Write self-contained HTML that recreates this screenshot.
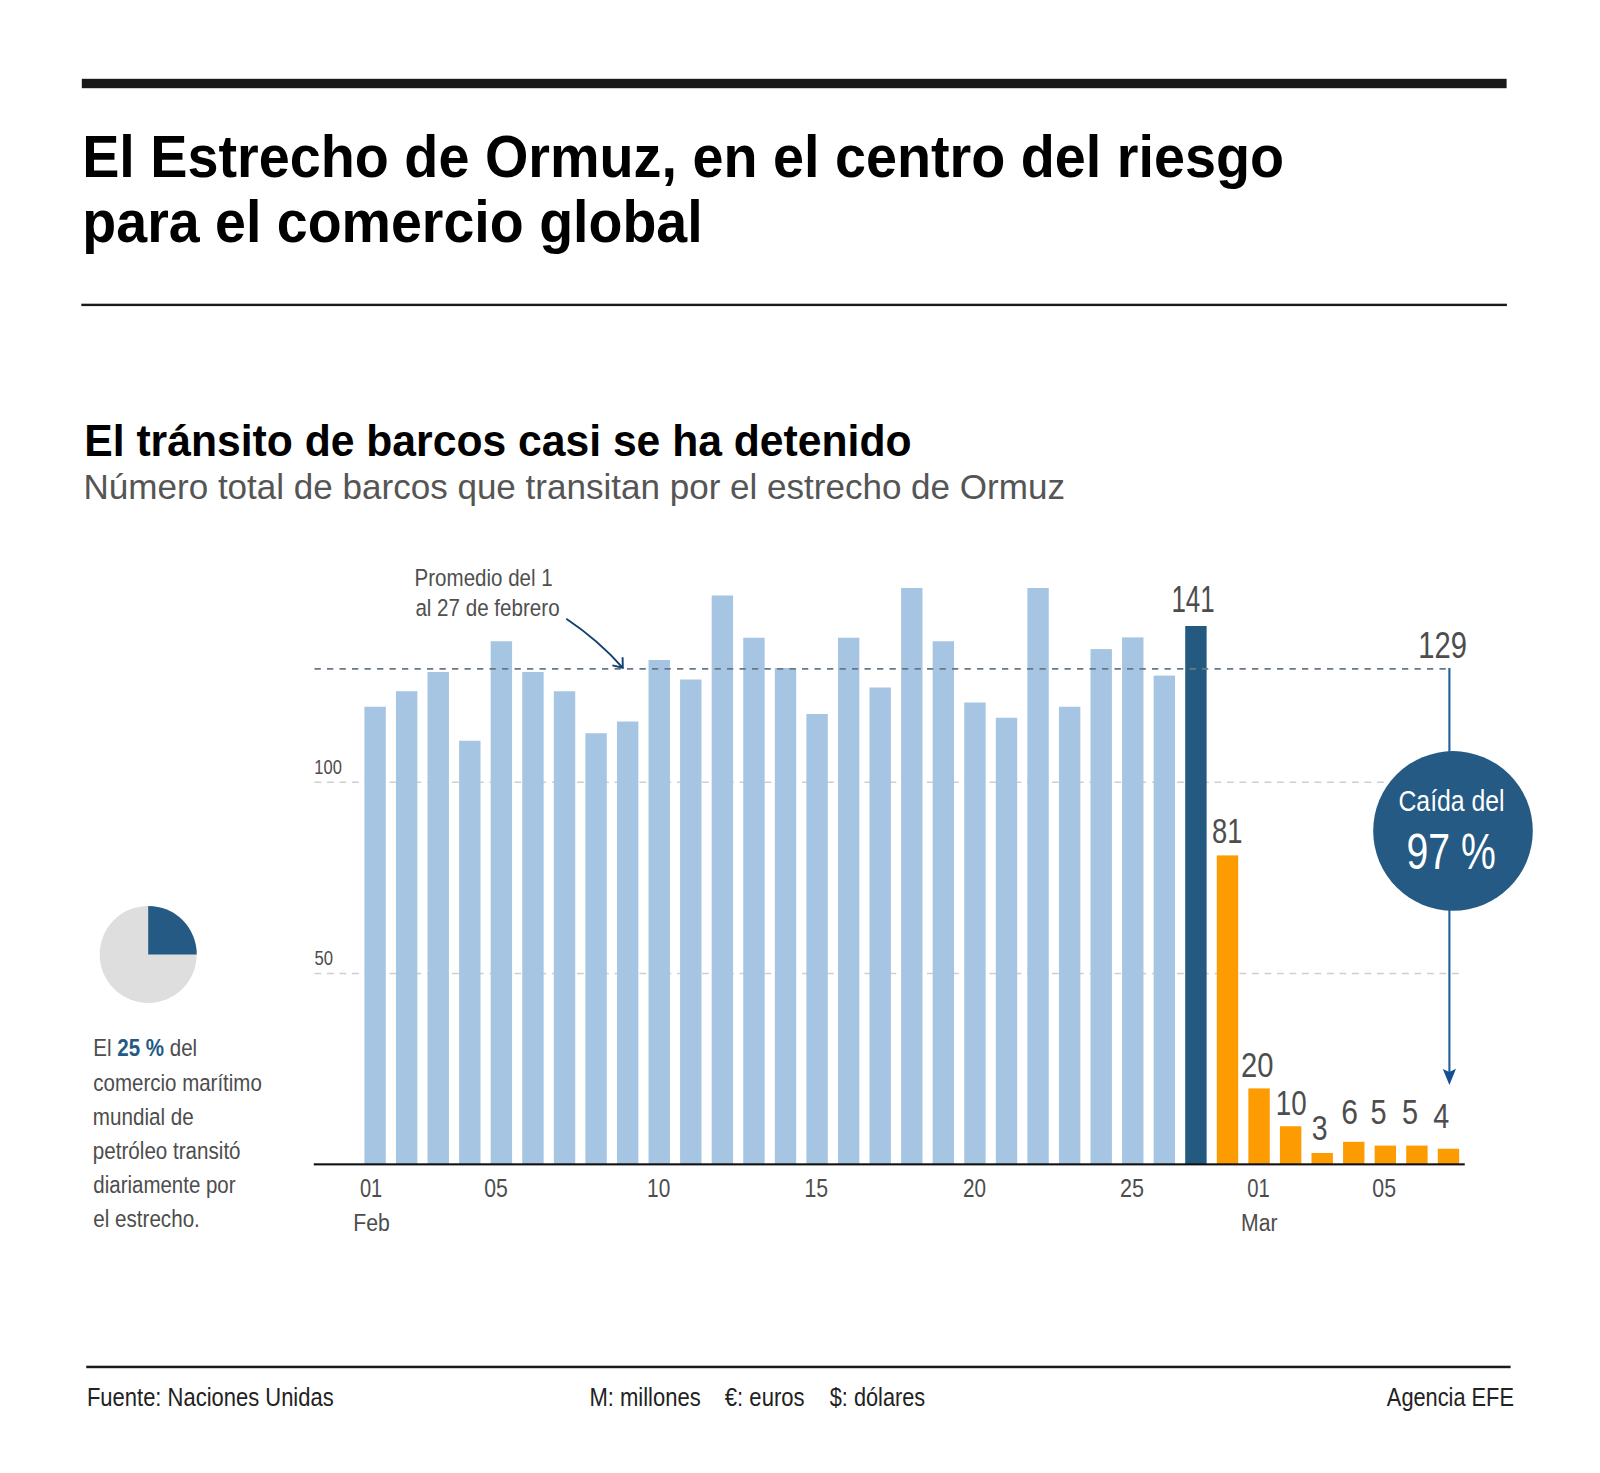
<!DOCTYPE html>
<html><head><meta charset="utf-8"><style>
html,body{margin:0;padding:0;background:#fff;width:1600px;height:1473px;overflow:hidden}
svg{display:block}
text{font-family:"Liberation Sans",sans-serif;white-space:pre}
</style></head><body>
<svg width="1600" height="1473" viewBox="0 0 1600 1473">
<rect x="0" y="0" width="1600" height="1473" fill="#fff"/>
<rect x="81.8" y="78.8" width="1424.8" height="9.4" fill="#1a1a1a"/>
<rect x="81.3" y="303.7" width="1425.6" height="2.4" fill="#1a1a1a"/>
<line x1="314.5" y1="782.2" x2="1462" y2="782.2" stroke="#cfcfcf" stroke-width="1.6" stroke-dasharray="6.8 5.7"/>
<line x1="314.5" y1="973.5" x2="1462" y2="973.5" stroke="#cfcfcf" stroke-width="1.6" stroke-dasharray="6.8 5.7"/>
<rect x="364.40" y="706.75" width="21.40" height="457.25" fill="#a5c5e2"/>
<rect x="395.97" y="691.25" width="21.40" height="472.75" fill="#a5c5e2"/>
<rect x="427.54" y="672.00" width="21.40" height="492.00" fill="#a5c5e2"/>
<rect x="459.11" y="740.75" width="21.40" height="423.25" fill="#a5c5e2"/>
<rect x="490.68" y="641.25" width="21.40" height="522.75" fill="#a5c5e2"/>
<rect x="522.25" y="672.00" width="21.40" height="492.00" fill="#a5c5e2"/>
<rect x="553.82" y="691.25" width="21.40" height="472.75" fill="#a5c5e2"/>
<rect x="585.39" y="733.25" width="21.40" height="430.75" fill="#a5c5e2"/>
<rect x="616.96" y="721.50" width="21.40" height="442.50" fill="#a5c5e2"/>
<rect x="648.53" y="660.00" width="21.40" height="504.00" fill="#a5c5e2"/>
<rect x="680.10" y="679.50" width="21.40" height="484.50" fill="#a5c5e2"/>
<rect x="711.67" y="595.50" width="21.40" height="568.50" fill="#a5c5e2"/>
<rect x="743.24" y="637.75" width="21.40" height="526.25" fill="#a5c5e2"/>
<rect x="774.81" y="668.00" width="21.40" height="496.00" fill="#a5c5e2"/>
<rect x="806.38" y="714.00" width="21.40" height="450.00" fill="#a5c5e2"/>
<rect x="837.95" y="637.75" width="21.40" height="526.25" fill="#a5c5e2"/>
<rect x="869.52" y="687.50" width="21.40" height="476.50" fill="#a5c5e2"/>
<rect x="901.09" y="588.00" width="21.40" height="576.00" fill="#a5c5e2"/>
<rect x="932.66" y="641.25" width="21.40" height="522.75" fill="#a5c5e2"/>
<rect x="964.23" y="702.50" width="21.40" height="461.50" fill="#a5c5e2"/>
<rect x="995.80" y="717.75" width="21.40" height="446.25" fill="#a5c5e2"/>
<rect x="1027.37" y="588.00" width="21.40" height="576.00" fill="#a5c5e2"/>
<rect x="1058.94" y="706.75" width="21.40" height="457.25" fill="#a5c5e2"/>
<rect x="1090.51" y="649.10" width="21.40" height="514.90" fill="#a5c5e2"/>
<rect x="1122.08" y="637.40" width="21.40" height="526.60" fill="#a5c5e2"/>
<rect x="1153.65" y="675.60" width="21.40" height="488.40" fill="#a5c5e2"/>
<rect x="1185.22" y="626.00" width="21.40" height="538.00" fill="#245a7f"/>
<rect x="1216.79" y="855.40" width="21.40" height="308.60" fill="#fd9b03"/>
<rect x="1248.36" y="1088.40" width="21.40" height="75.60" fill="#fd9b03"/>
<rect x="1279.93" y="1126.25" width="21.40" height="37.75" fill="#fd9b03"/>
<rect x="1311.50" y="1153.00" width="21.40" height="11.00" fill="#fd9b03"/>
<rect x="1343.07" y="1141.80" width="21.40" height="22.20" fill="#fd9b03"/>
<rect x="1374.64" y="1145.60" width="21.40" height="18.40" fill="#fd9b03"/>
<rect x="1406.21" y="1145.60" width="21.40" height="18.40" fill="#fd9b03"/>
<rect x="1437.78" y="1148.75" width="21.40" height="15.25" fill="#fd9b03"/>
<line x1="314.5" y1="668.8" x2="1446.4" y2="668.8" stroke="#687888" stroke-width="1.8" stroke-dasharray="6.3 6.2"/>
<rect x="313.75" y="1163.3" width="1151" height="2.1" fill="#111"/>
<line x1="1449.4" y1="668" x2="1449.4" y2="1073" stroke="#215e97" stroke-width="2.1"/>
<path d="M1442.8 1069.1 L1449.3 1072 L1456 1068.8 L1449.4 1084.9 Z" fill="#134f92"/>
<circle cx="1453" cy="830.9" r="79.8" fill="#245a84"/>
<path d="M566.3 618.8 Q598.4 640.3 622.8 667.8" fill="none" stroke="#123f6e" stroke-width="1.9"/>
<path d="M622.6 657.3 L622.8 667.8 L612.4 665.4" fill="none" stroke="#123f6e" stroke-width="1.9"/>
<circle cx="148.2" cy="954.4" r="48.5" fill="#dedede"/>
<path d="M148.2 954.4 L148.2 905.9 A48.5 48.5 0 0 1 196.7 954.4 Z" fill="#245a84"/>
<rect x="86.25" y="1365.7" width="1424.35" height="2.5" fill="#1a1a1a"/>
<text transform="translate(82.17 176.70) scale(0.9401 1)" font-size="59.30" font-weight="bold" fill="#000">El Estrecho de Ormuz, en el centro del riesgo</text>
<text transform="translate(82.34 241.50) scale(0.9367 1)" font-size="59.30" font-weight="bold" fill="#000">para el comercio global</text>
<text transform="translate(84.25 456.00) scale(0.9589 1)" font-size="44.50" font-weight="bold" fill="#000">El tránsito de barcos casi se ha detenido</text>
<text transform="translate(83.57 498.60) scale(1.0219 1)" font-size="34.30" font-weight="normal" fill="#555">Número total de barcos que transitan por el estrecho de Ormuz</text>
<text transform="translate(414.56 586.25) scale(0.8455 1)" font-size="24.30" font-weight="normal" fill="#505050">Promedio del 1</text>
<text transform="translate(415.38 615.50) scale(0.8474 1)" font-size="24.30" font-weight="normal" fill="#505050">al 27 de febrero</text>
<text transform="translate(314.34 773.80) scale(0.7864 1)" font-size="21.00" font-weight="normal" fill="#4d4d4d">100</text>
<text transform="translate(314.53 964.80) scale(0.7927 1)" font-size="21.00" font-weight="normal" fill="#4d4d4d">50</text>
<text transform="translate(1171.43 612.40) scale(0.7100 1)" font-size="36.50" font-weight="normal" fill="#4d4d4d">141</text>
<text transform="translate(1418.28 657.50) scale(0.7980 1)" font-size="36.50" font-weight="normal" fill="#4d4d4d">129</text>
<text transform="translate(1212.11 843.20) scale(0.7815 1)" font-size="35.00" font-weight="normal" fill="#4d4d4d">81</text>
<text transform="translate(1240.93 1077.20) scale(0.8337 1)" font-size="35.00" font-weight="normal" fill="#4d4d4d">20</text>
<text transform="translate(1275.78 1114.80) scale(0.7938 1)" font-size="35.00" font-weight="normal" fill="#4d4d4d">10</text>
<text transform="translate(1311.67 1140.00) scale(0.8135 1)" font-size="35.00" font-weight="normal" fill="#4d4d4d">3</text>
<text transform="translate(1341.23 1124.10) scale(0.8576 1)" font-size="35.00" font-weight="normal" fill="#4d4d4d">6</text>
<text transform="translate(1370.44 1124.10) scale(0.8256 1)" font-size="35.00" font-weight="normal" fill="#4d4d4d">5</text>
<text transform="translate(1401.94 1124.10) scale(0.8256 1)" font-size="35.00" font-weight="normal" fill="#4d4d4d">5</text>
<text transform="translate(1433.34 1128.10) scale(0.8221 1)" font-size="35.00" font-weight="normal" fill="#4d4d4d">4</text>
<text transform="translate(1398.44 810.90) scale(0.8216 1)" font-size="30.20" font-weight="normal" fill="#fff">Caída del</text>
<text transform="translate(1406.46 868.90) scale(0.7746 1)" font-size="50.60" font-weight="normal" fill="#fff">97 %</text>
<text transform="translate(93.32 1056.30) scale(0.8312 1)" font-size="24.70" font-weight="normal" fill="#4d4d4d">El <tspan font-weight="bold" fill="#245a84">25 %</tspan> del</text>
<text transform="translate(93.33 1090.70) scale(0.8297 1)" font-size="24.70" font-weight="normal" fill="#4d4d4d">comercio marítimo</text>
<text transform="translate(92.83 1125.10) scale(0.8349 1)" font-size="24.70" font-weight="normal" fill="#4d4d4d">mundial de</text>
<text transform="translate(92.87 1158.70) scale(0.8344 1)" font-size="24.70" font-weight="normal" fill="#4d4d4d">petróleo transitó</text>
<text transform="translate(93.34 1193.00) scale(0.8291 1)" font-size="24.70" font-weight="normal" fill="#4d4d4d">diariamente por</text>
<text transform="translate(93.32 1227.40) scale(0.8345 1)" font-size="24.70" font-weight="normal" fill="#4d4d4d">el estrecho.</text>
<text transform="translate(359.97 1197.20) scale(0.8056 1)" font-size="24.90" font-weight="normal" fill="#4d4d4d">01</text>
<text transform="translate(484.17 1197.20) scale(0.8529 1)" font-size="24.90" font-weight="normal" fill="#4d4d4d">05</text>
<text transform="translate(647.11 1197.20) scale(0.8378 1)" font-size="24.90" font-weight="normal" fill="#4d4d4d">10</text>
<text transform="translate(804.38 1197.20) scale(0.8564 1)" font-size="24.90" font-weight="normal" fill="#4d4d4d">15</text>
<text transform="translate(962.96 1197.20) scale(0.8323 1)" font-size="24.90" font-weight="normal" fill="#4d4d4d">20</text>
<text transform="translate(1120.12 1197.20) scale(0.8662 1)" font-size="24.90" font-weight="normal" fill="#4d4d4d">25</text>
<text transform="translate(1247.21 1197.20) scale(0.8154 1)" font-size="24.90" font-weight="normal" fill="#4d4d4d">01</text>
<text transform="translate(1372.37 1197.20) scale(0.8568 1)" font-size="24.90" font-weight="normal" fill="#4d4d4d">05</text>
<text transform="translate(353.26 1231.40) scale(0.8786 1)" font-size="24.20" font-weight="normal" fill="#4d4d4d">Feb</text>
<text transform="translate(1241.06 1231.40) scale(0.8756 1)" font-size="24.20" font-weight="normal" fill="#4d4d4d">Mar</text>
<text transform="translate(86.95 1405.50) scale(0.8391 1)" font-size="26.20" font-weight="normal" fill="#222">Fuente: Naciones Unidas</text>
<text transform="translate(589.44 1405.50) scale(0.8405 1)" font-size="26.20" font-weight="normal" fill="#222">M: millones</text>
<text transform="translate(724.83 1405.50) scale(0.8421 1)" font-size="26.20" font-weight="normal" fill="#222">€: euros</text>
<text transform="translate(829.77 1405.50) scale(0.8302 1)" font-size="26.20" font-weight="normal" fill="#222">$: dólares</text>
<text transform="translate(1386.86 1405.90) scale(0.8317 1)" font-size="26.20" font-weight="normal" fill="#222">Agencia EFE</text>
</svg>
</body></html>
